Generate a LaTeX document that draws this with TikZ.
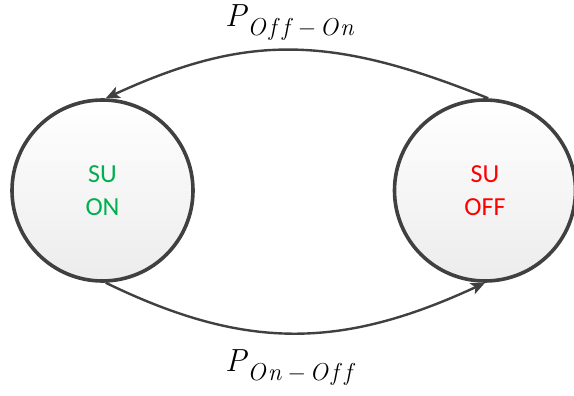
\documentclass[tikz,border=0pt]{standalone}
\usepackage{fontspec}
\newfontfamily\labelfont{Carlito}
\usetikzlibrary{arrows.meta}

\definecolor{edgegray}{HTML}{404040}
\definecolor{ongreen}{HTML}{00B050}
\definecolor{offred}{HTML}{FF0000}
\definecolor{fillbottom}{HTML}{ECECEC}

\tikzset{
  statenode/.style={circle, draw=edgegray, line width=3.6pt,
    minimum size=181pt, inner sep=0pt,
    top color=white, bottom color=fillbottom,
    font=\labelfont\fontsize{26}{33}\selectfont, align=center},
  transition/.style={draw=edgegray, line width=2.4pt,
    -{Stealth[length=14pt, width=12pt, inset=3.5pt]}},
  problabel/.style={anchor=base west, inner sep=0pt}
}

% transition probability label: large italic P with a lowered subscript
\newcommand{\transprob}[2]{%
  {\itshape\fontsize{32}{32}\selectfont P}\kern1pt
  \raisebox{-8.5pt}{\itshape\fontsize{24.5}{26}\selectfont #1\kern5pt−\kern5pt#2}}
\newcommand{\offword}{O\kern3pt f\kern6pt f\kern2pt}
\newcommand{\onword}{O\kern2pt n}

\begin{document}
\begin{tikzpicture}[x=1pt, y=-1pt]
  \useasboundingbox (0,0) rectangle (574,396);

  \node[statenode] (on)  at (102.5,190.5) {\textcolor{ongreen}{SU}\\\textcolor{ongreen}{ON}};
  \node[statenode] (off) at (485,190.5)   {\textcolor{offred}{SU}\\\textcolor{offred}{OFF}};

  \draw[transition] (off.88) .. controls (329,34) and (246,34) .. (on.88);
  \draw[transition] (on.272) .. controls (244,350) and (340,350) .. (off.270);

  \node[problabel] (poffon) at (225,26.7)  {\transprob{\offword}{\onword}};
  \node[problabel] (ponoff) at (225,371.7) {\transprob{\onword}{\offword}};
\end{tikzpicture}
\end{document}
